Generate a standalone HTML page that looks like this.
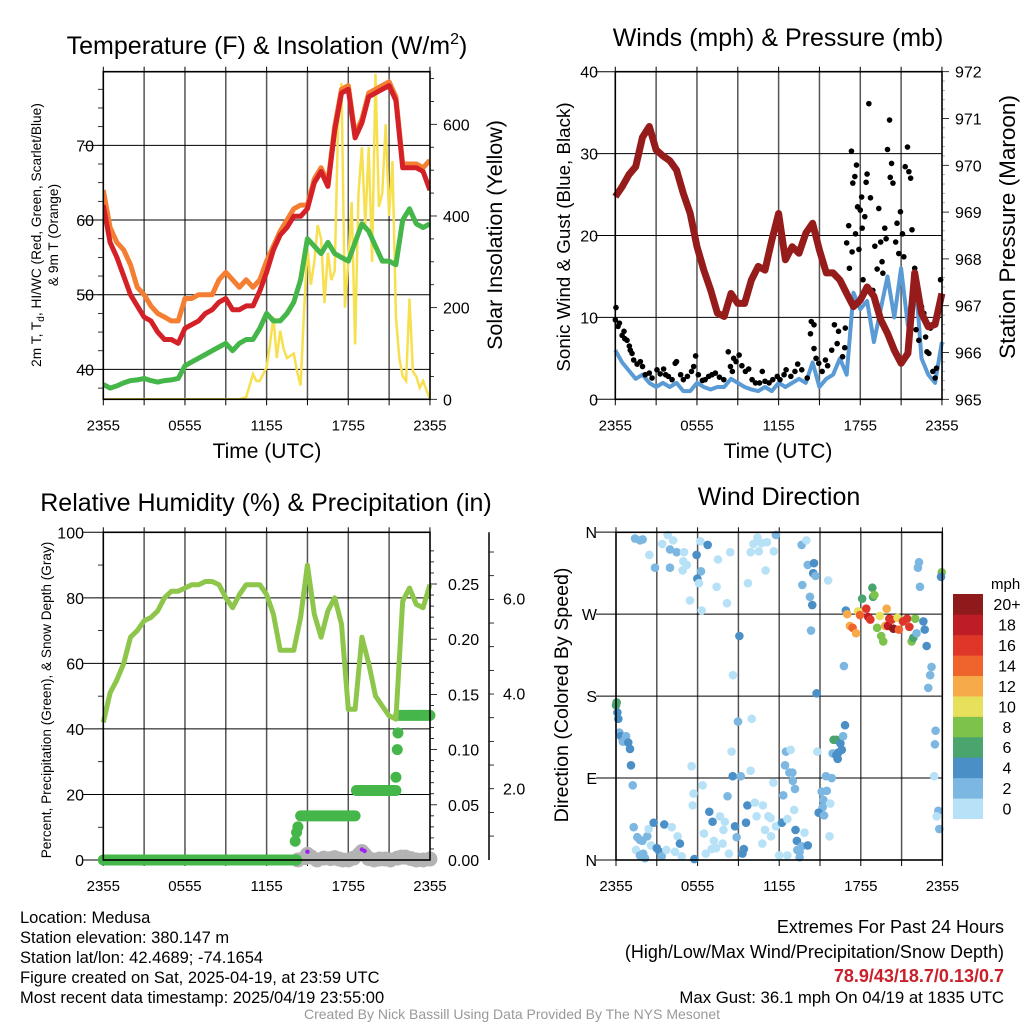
<!DOCTYPE html>
<html><head><meta charset="utf-8"><title>Mesonet Medusa</title>
<style>
html,body{margin:0;padding:0;background:#fff;}
svg{display:block;font-family:"Liberation Sans",sans-serif;}
</style></head>
<body>
<svg id="svg" width="1024" height="1024" viewBox="0 0 1024 1024" xmlns="http://www.w3.org/2000/svg">
<rect width="1024" height="1024" fill="#fff"/>
<text x="267" y="54" font-size="25" text-anchor="middle">Temperature (F) &amp; Insolation (W/m<tspan dy="-10" font-size="16">2</tspan><tspan dy="10">)</tspan></text>
<text x="778" y="46" font-size="25" text-anchor="middle">Winds (mph) &amp; Pressure (mb)</text>
<text x="266" y="511" font-size="25" text-anchor="middle">Relative Humidity (%) &amp; Precipitation (in)</text>
<text x="779" y="505" font-size="25" text-anchor="middle">Wind Direction</text>

<text transform="translate(41,235) rotate(-90)" font-size="13.7" text-anchor="middle">2m T, T<tspan dy="3" font-size="10">d</tspan><tspan dy="-3">, HI/WC (Red, Green, Scarlet/Blue)</tspan></text>
<text transform="translate(58,235) rotate(-90)" font-size="13.7" text-anchor="middle">&amp; 9m T (Orange)</text>
<text transform="translate(502,235) rotate(-90)" font-size="21.5" text-anchor="middle">Solar Insolation (Yellow)</text>
<text transform="translate(570,237) rotate(-90)" font-size="18.8" text-anchor="middle">Sonic Wind &amp; Gust (Blue, Black)</text>
<text transform="translate(1015,227) rotate(-90)" font-size="22.5" text-anchor="middle">Station Pressure (Maroon)</text>
<text transform="translate(51,700) rotate(-90)" font-size="13.6" text-anchor="middle">Percent, Precipitation (Green), &amp; Snow Depth (Gray)</text>
<text transform="translate(568,695) rotate(-90)" font-size="19.6" text-anchor="middle">Direction (Colored By Speed)</text>
<text x="267" y="458" font-size="21" text-anchor="middle">Time (UTC)</text>
<text x="778" y="458" font-size="21" text-anchor="middle">Time (UTC)</text>

<g font-size="16.5">
<text x="20" y="923">Location: Medusa</text>
<text x="20" y="943">Station elevation: 380.147 m</text>
<text x="20" y="963">Station lat/lon: 42.4689; -74.1654</text>
<text x="20" y="983">Figure created on Sat, 2025-04-19, at 23:59 UTC</text>
<text x="20" y="1003">Most recent data timestamp: 2025/04/19 23:55:00</text>
</g>
<g text-anchor="end">
<text x="1004" y="933" font-size="18">Extremes For Past 24 Hours</text>
<text x="1004" y="958" font-size="18">(High/Low/Max Wind/Precipitation/Snow Depth)</text>
<text x="1004" y="982" font-size="18" fill="#c9202a" font-weight="bold">78.9/43/18.7/0.13/0.7</text>
<text x="1004" y="1003" font-size="16.8">Max Gust: 36.1 mph On 04/19 at 1835 UTC</text>
</g>
<text x="512" y="1019" font-size="14" fill="#999" text-anchor="middle">Created By Nick Bassill Using Data Provided By The NYS Mesonet</text>
</svg>
<script>
// ---------- DATA ----------
const halfHours = [0,0.5,1,1.5,2,2.5,3,3.5,4,4.5,5,5.5,6,6.5,7,7.5,8,8.5,9,9.5,10,10.5,11,11.5,12,12.5,13,13.5,14,14.5,15,15.5,16,16.5,17,17.5,18,18.5,19,19.5,20,20.5,21,21.5,22,22.5,23,23.5,24];
const tempRed = [62,57,55,52.5,50,48.5,47,46.5,45,44,44,43.5,45.5,46,46.5,47.5,48,49,49.5,48,48,48.5,48.5,50.5,53,56,58,59,60.5,60.5,61.5,65,66.5,64.5,72,77,77.5,71,73,76.5,77,77.5,78,76,67,67,67,66.5,64];
const temp9m = [64,59,57,56,54,51,50,48.5,47.5,47,46.5,46.5,49.5,49.5,50,50,50,52,53,52,51,52,51,52,54.5,56.5,58.5,60,61.5,62,62,65.5,67,65,72.5,77.5,78,71.5,73.5,77,77.5,78,78.5,76.5,67.5,67.5,67.5,67,68];
const tempDew = [38,37.5,37.8,38.2,38.5,38.6,38.8,38.5,38.3,38.5,38.6,38.8,40.5,41,41.5,42,42.5,43,43.5,42.5,43.5,44,44,45.5,47.5,46.5,46.5,47.5,49,52,57.5,56.5,55.5,57,55.5,55,54.5,57,59.5,58.5,56.5,54.5,54.5,54,60,61.5,59.5,59,59.5];
const solarHours = [0,10,10.5,11,11.25,11.5,12,12.25,12.5,12.75,13,13.25,13.5,14,14.25,14.5,14.75,15,15.25,15.5,15.75,16,16.25,16.5,16.75,17,17.25,17.5,17.75,18,18.25,18.5,18.75,19,19.25,19.5,19.75,20,20.25,20.5,20.75,21,21.25,21.5,21.75,22,22.25,22.5,22.75,23,23.25,23.5,24];
const solarVals = [0,0,5,55,40,40,70,120,180,90,150,110,90,100,60,30,190,330,250,300,380,350,210,320,260,280,600,690,200,300,430,120,450,550,380,550,300,710,420,450,600,400,520,180,90,50,40,220,60,50,25,40,0];
const tempTicks = [40,50,60,70];
const solarTicks = [0,200,400,600];
const timeLabels = ["2355","0555","1155","1755","2355"];

const pressure = [969.33,969.54,969.8,969.97,970.6,970.83,970.33,970.2,970.1,969.9,969.4,968.97,968.26,967.76,967.34,966.84,966.77,967.26,967.05,967.05,967.55,967.84,967.76,968.4,968.97,967.98,968.26,968.12,968.55,968.76,968.19,967.7,967.7,967.55,967.26,966.98,967.12,967.4,967.2,966.7,966.41,966.05,965.77,965.98,967.7,966.84,966.55,966.6,967.26];
const windSpeed = [6,4.5,3.5,2.5,3,2,1.5,2,1.5,2,1,1,2,1.5,1.2,1.5,1.5,2.5,2,1.5,1.2,1,1.5,1,2,1.5,2,2.5,2,4.5,1.5,2.5,3,5,3,13,11,12,7,11,15,10,16,9,16,5,3,2,7];
const gustHours = [0,0.05,0.2,0.3,0.5,0.7,0.86,1.03,0.64,1.1,1.23,1.35,1.6,1.84,2,2.2,2.5,2.7,3.06,3.3,3.55,3.7,3.9,4.17,4.4,4.5,4.8,5,5.3,5.6,5.9,5.76,6.1,6.4,6.6,6.86,7.1,7.35,7.65,7.97,8.3,8.46,8.6,8.7,8.87,9.1,9.3,9.56,9.8,10.05,10.3,10.6,10.8,11,11.3,11.57,11.9,12.1,12.4,12.55,12.9,13.2,13.4,13.7,14.1,14.34,14.4,14.6,14.6,14.75,14.95,15.2,15.44,15.6,15.9,16.1,16.3,16.4,16.7,16.86,16.9,17,17.15,17.2,17.35,17.4,17.45,17.6,17.65,17.72,17.8,17.9,18,18.1,18.14,18.2,18.33,18.43,18.5,18.63,18.75,18.92,19.07,19.24,19.36,19.5,19.6,19.66,19.8,19.9,20,20.15,20.2,20.3,20.4,20.6,20.7,20.83,20.95,21.1,21.2,21.3,21.47,21.57,21.7,21.8,22,22.1,22.3,22.5,22.67,22.8,22.9,23.04,23.16,23.33,23.5,23.6,23.9];
const gustVals = [9.7,11.2,8.9,9.3,7.8,7.4,7.2,6.5,8.3,6,5.6,4.8,4.3,4.6,4,3,3.2,2.6,3.6,3.1,3.7,3,2.8,2.4,4.4,4.6,3,2.4,2.8,3.4,5.3,4,3,2.3,2.4,2.8,3,3.2,2.7,2.4,5.8,4,3.4,5,4.6,5.4,4.1,3.4,3.7,2.4,2,2,3.4,2.2,2,2.4,2.8,2.4,3,3.6,2.8,3.4,4.3,3.6,2.6,8,9.5,9.1,6.2,5,4.4,3.4,4.8,4.1,6,9.1,6.8,8.3,5.2,6.3,8.7,19.1,21.2,16,30.3,18,26.4,27.2,20.2,28.6,23.5,18.3,23.1,24.7,20.9,14.6,22.3,26.5,27.5,36.1,24.6,13.3,18.7,15.9,23.3,19.2,16.8,15.4,20.9,19.6,30.5,34.1,27.1,28.8,26.4,19.2,21.5,17.8,22.9,20.2,17.4,28.4,30.8,27.8,27,20.7,16,8.5,7.2,11.3,10.5,7.6,5.8,5.6,8.7,3.4,2.6,3.8,14.6];
const windTicks = [0,10,20,30,40];
const pressTicks = [965,966,967,968,969,970,971,972];

const rhVals = [42,51,55,60,68,70,73,74,76,80,82,82,83,84,84,85,85,84,80,77,81,84,84,84,81,75,64,64,64,74,90,75,68,76,80,72,46,46,68,60,50,47,44,43,79,83,78,77,84];
const precipStepStart = [0,14.5,18.6,21.9];
const precipStepEnd = [14.2,18.5,21.5,24];
const precipStepVal = [0,0.04,0.063,0.131];
const precipDotHours = [14.1,14.2,14.3,21.5,21.6,21.65,21.7];
const precipDotVals = [0.017,0.025,0.03,0.075,0.1,0.115,0.131];
const snowHours = [14.3,14.8,15.0,15.3,15.7,16.2,16.7,17.0,17.3,17.6,18.0,18.4,18.8,19.0,19.2,19.5,19.9,20.3,20.7,21.1,21.6,21.9,22.2,22.6,23.0,23.5,24];
const snowVals = [0,0.05,0.12,0.06,0,0.04,0.03,0.05,0.02,0,0,0.04,0.12,0.18,0.12,0.03,0,0.02,0.02,0,0.04,0.06,0.06,0.03,0,0,0.02];
const rhTicks = [0,20,40,60,80,100];
const precipTicks = ["0.00","0.05","0.10","0.15","0.20","0.25"];
const snowTicks = ["2.0","4.0","6.0"];

const dirHours = [1.4,1.76,1.96,2.45,2.87,3.4,3.8,3.97,4.2,4.46,3.97,5.0,4.95,5.2,4.9,5.44,5.93,6.25,5.98,6.1,6.3,6.2,6.74,7.5,7.4,8.16,8.4,9.07,8.6,9.7,10.1,10.4,10.7,11.1,9.9,10.5,11.0,11.6,11.76,13.65,14.0,14.1,14.56,14.5,14.67,13.7,14.26,14.43,14.34,15.6,14.75,16.76,
16.9,17.0,17.2,17.4,17.65,17.8,17.94,18.1,18.4,18.55,18.7,18.85,18.9,19.0,19.2,19.4,19.5,19.65,19.8,19.9,20.1,20.0,20.27,20.4,20.7,20.8,21.1,21.4,21.57,21.74,21.86,22.0,22.1,22.6,22.7,22.84,22.28,22.2,22.35,23.2,23.1,22.96,23.95,23.9,23.5,23.45,23.4,23.7,23.58,23.77,
0,0.05,0.1,0.17,0.25,0.37,0.5,0.74,0.9,1.03,1.1,1.23,
5.56,5.7,5.64,6.37,8.5,8.97,9.98,8.58,9.17,9.9,8.2,9.66,10.2,10.8,11.57,12.5,12.84,12.43,12.75,12.97,13.0,13.16,12.3,13.1,14.8,15.44,15.86,15.12,15.5,15.25,15.2,14.9,15.3,15.75,15.7,16.0,16.2,16.5,16.6,16.7,16.84,15.93,16.2,16.35,16.3,
1.3,1.57,1.76,1.94,2.3,2.4,2.77,1.47,1.76,2.13,2.0,2.57,3.0,3.2,3.36,3.55,3.7,4.1,4.34,4.53,4.7,4.83,5.76,6.47,6.6,6.86,7.1,7.2,7.03,7.35,7.64,7.9,8.0,7.84,8.3,8.75,8.87,9.4,9.3,9.56,10.34,10.96,11.2,11.37,11.4,10.76,11.76,12.0,12.2,12.6,12.6,13.2,13.3,13.33,13.5,13.65,13.86,14.1,13.5];
const dirDeg = [353,351,352,335,321,347,357,341,351,338,321,338,328,324,318,285,335,317,309,304,274,350,346,330,300,282,338,246,203,304,347,354,348,349,338,339,318,339,357,346,351,324,326,315,312,302,289,280,252,307,183,213,
274,270,257,255,249,273,269,287,276,267,264,299,289,291,255,268,246,240,257,276,265,257,264,254,266,253,262,265,256,240,244,265,249,262,253,235,327,321,300,212,203,189,316,311,142,127,92,54,48,34,
170,173,162,155,140,136,130,136,129,122,104,82,
103,73,60,82,119,152,155,92,92,98,70,60,63,60,85,119,121,104,96,96,87,78,71,55,119,92,90,75,76,66,58,52,49,62,26,132,132,128,121,136,148,117,115,118,111,
36,25,22,21,26,34,41,11,5,2,7,16,13,9,4,39,11,36,9,26,18,4,1,29,7,53,42,21,12,13,48,33,42,18,7,37,25,12,7,41,48,33,48,46,26,18,37,5,41,45,5,33,21,11,3,15,30,16,9];
const dirSpeed = [2,2,2,0,2,0,0,2,0,2,2,0,0,0,0,0,4,2,4,0,0,0,4,0,0,0,0,4,0,0,0,0,0,0,0,0,0,0,2,2,0,2,4,4,2,2,2,4,2,0,4,2,
4,12,12,14,12,10,14,6,16,18,16,6,6,8,8,10,8,8,12,12,16,18,16,20,10,14,16,16,16,8,6,8,2,4,4,4,2,2,2,2,2,2,8,4,2,2,0,2,0,2,
6,6,4,4,2,4,2,2,4,4,4,2,
0,0,0,0,0,2,0,4,2,0,2,4,0,0,0,2,0,2,2,2,2,2,2,0,0,2,2,2,2,2,2,4,2,0,0,6,6,4,4,2,4,2,4,4,4,
2,2,2,2,2,0,4,0,2,2,2,0,4,4,2,4,0,0,0,0,4,0,4,0,0,4,4,0,0,0,0,0,0,0,0,4,2,4,4,4,0,0,0,0,0,0,0,0,4,0,0,4,4,2,2,2,0,4,2];
const dirLabels = ["N","E","S","W","N"];
const speedBinLabels = ["0","2","4","6","8","10","12","14","16","18","20+"];
const speedColors = ["#b7e1f6","#7cb7e2","#4a8fc6","#4aa46e","#7dc24b","#e6e05a","#f6aa4a","#ef632d","#de3629","#bf1d25","#8f1a1c"];

// ---------- HELPERS ----------
const NS = "http://www.w3.org/2000/svg";
const svg = document.getElementById("svg");
function mk(tag, attrs, parent) {
  const e = document.createElementNS(NS, tag);
  for (const k in attrs) e.setAttribute(k, attrs[k]);
  (parent || svg).appendChild(e);
  return e;
}
function txt(s, x, y, size, anchor, parent) {
  const t = mk("text", {x: x, y: y, "font-size": size, "text-anchor": anchor || "middle"}, parent);
  t.textContent = s;
  return t;
}
function pathFrom(xs, ys) {
  return xs.map((x, i) => (i ? "L" : "M") + x.toFixed(1) + "," + ys[i].toFixed(1)).join("");
}

const X1 = h => 103.3 + h * 13.61;
const X2 = h => 615.3 + h * 13.61;
const X4 = h => 616 + h * 13.6;
const T1 = t => 399.3 - (t - 36) * 7.47;
const S1 = w => 399.3 - w * 0.4583;
const W2 = v => 399.3 - v * 8.19;
const P2 = p => 399.3 - (p - 965) * 46.8;
const RH3 = r => 860 - r * 3.277;
const PR3 = p => 860 - p * 1104;
const SN3 = s => 860 - s * 47.3;
const D4 = d => 860 - d * 0.9106;

function frame(name, x0, x1, y0, y1, X) {
  const g = mk("g", {});
  
  
  for (let h = 3; h < 24; h += 3) {
    const l = mk("line", {x1: X(h), x2: X(h), y1: y0, y2: y1, stroke: "#555", "stroke-width": 1.5}, g);
    
    
  }
  for (let i = 0; i < 9; i++) {
    const h = i * 3;
    const t = mk("line", {x1: X(h), x2: X(h), y1: y0 - 5, y2: y0, stroke: "#000", "stroke-width": 1}, g);
    
    
    const b = mk("line", {x1: X(h), x2: X(h), y1: y1, y2: y1 + 6, stroke: "#000", "stroke-width": 1}, g);
    
    
  }
  timeLabels.forEach((s, i) => {
    const t = txt(s, X(i * 6), y1 + 31, 15, "middle", g);
    
    
  });
  return g;
}
function box(name, x0, x1, y0, y1) {
  const r = mk("rect", {x: x0, y: y0, width: x1 - x0, height: y1 - y0, fill: "none", stroke: "#000", "stroke-width": 1.6});
  
  
}
function hgrid(g, y, x0, x1) {
  const l = mk("line", {x1: x0 - 20, x2: x1, y1: y, y2: y, stroke: "#000", "stroke-width": 1}, g);
  
  
}

// ---------- PANEL 1 ----------
{
  const g = frame("temp", 103.3, 430, 71.7, 399.3, X1);
  tempTicks.forEach(t => {
    hgrid(g, T1(t), 103.3, 430);
    const lb = txt(String(t), 94, T1(t) + 6, 16, "end", g);
    
    
  });
  for (let t = 37.5; t < 80; t += 2.5) {
    const tk = mk("line", {x1: 98, x2: 103.3, y1: T1(t), y2: T1(t), stroke: "#000", "stroke-width": 0.8}, g);
    
    
  }
  for (let w = 0; w <= 700; w += 50) {
    const tk = mk("line", {x1: 430, x2: w % 200 === 0 ? 437 : 434, y1: S1(w), y2: S1(w), stroke: "#000", "stroke-width": 0.8}, g);
    
    
  }
  solarTicks.forEach(w => {
    const lb = txt(String(w), 443, S1(w) + 6, 16, "start", g);
    
    
  });
  const cp = mk("clipPath", {id: "c1"}); mk("rect", {x: 103.3, y: 71.7, width: 326.7, height: 327.6}, cp);
  const sol = mk("path", {d: pathFrom(solarHours.map(X1), solarVals.map(S1)), fill: "none", stroke: "#f7e04f", "stroke-width": 2.5, "clip-path": "url(#c1)"});
  
  
  const o = mk("path", {d: pathFrom(halfHours.map(X1), temp9m.map(T1)), fill: "none", stroke: "#f47f32", "stroke-width": 5, "stroke-linejoin": "round", "clip-path": "url(#c1)"});
  
  
  const r = mk("path", {d: pathFrom(halfHours.map(X1), tempRed.map(T1)), fill: "none", stroke: "#d42027", "stroke-width": 5, "stroke-linejoin": "round", "clip-path": "url(#c1)"});
  
  
  const d = mk("path", {d: pathFrom(halfHours.map(X1), tempDew.map(T1)), fill: "none", stroke: "#45b649", "stroke-width": 5, "stroke-linejoin": "round", "clip-path": "url(#c1)"});
  
  
  box("temp", 103.3, 430, 71.7, 399.3);
}

// ---------- PANEL 2 ----------
{
  const g = frame("wind", 615.3, 942, 71.7, 399.3, X2);
  windTicks.forEach(v => {
    hgrid(g, W2(v), 615.3, 942);
    const lb = txt(String(v), 598, W2(v) + 6, 16, "end", g);
    
    
  });
  for (let p = 965; p <= 972.001; p += 0.2) {
    const major = Math.abs(p - Math.round(p)) < 0.01;
    const tk = mk("line", {x1: 942, x2: major ? 949 : 945, y1: P2(p), y2: P2(p), stroke: major ? "#000" : "#999", "stroke-width": 0.8}, g);
    
    
  }
  pressTicks.forEach(p => {
    const lb = txt(String(p), 955, P2(p) + 6, 16, "start", g);
    
    
  });
  const b = mk("path", {d: pathFrom(halfHours.map(X2), windSpeed.map(W2)), fill: "none", stroke: "#5a9bd5", "stroke-width": 4, "stroke-linejoin": "round"});
  
  
  const gg = mk("g", {});
  
  
  gustHours.forEach((h, i) => {
    const c = mk("circle", {cx: X2(h), cy: W2(gustVals[i]), r: 2.8, fill: "#000"}, gg);
    
    
  });
  const p = mk("path", {d: pathFrom(halfHours.map(X2), pressure.map(P2)), fill: "none", stroke: "#961b1b", "stroke-width": 7, "stroke-linejoin": "round"});
  
  
  box("wind", 615.3, 942, 71.7, 399.3);
}

// ---------- PANEL 3 ----------
{
  const g = frame("rh", 103.3, 430, 532.3, 860, X1);
  rhTicks.forEach(v => {
    hgrid(g, RH3(v), 103.3, 430);
    const lb = txt(String(v), 84, RH3(v) + 6, 16, "end", g);
    
    
  });
  for (let v = 10; v < 100; v += 20) {
    const tk = mk("line", {x1: 98, x2: 103.3, y1: RH3(v), y2: RH3(v), stroke: "#000", "stroke-width": 0.8}, g);
    
    
  }
  for (let p = 0; p <= 0.29; p += 0.01) {
    const major = Math.abs(p * 20 - Math.round(p * 20)) < 0.01;
    const tk = mk("line", {x1: 430, x2: major ? 437 : 434, y1: PR3(p), y2: PR3(p), stroke: "#000", "stroke-width": 0.8}, g);
    
    
  }
  precipTicks.forEach(s => {
    const lb = txt(s, 448, PR3(parseFloat(s)) + 6, 16, "start", g);
    
    
  });
  const ax = mk("line", {x1: 489, x2: 489, y1: 532.3, y2: 860, stroke: "#000", "stroke-width": 1.5}, g);
  
  
  for (let k = 0; k < 14; k++) {
    const y = 788.7 + 47.35 * 1.5 - k * 23.67;
    if (y < 536 || y > 858) continue;
    const tk = mk("line", {x1: 489, x2: 494, y1: y, y2: y, stroke: "#000", "stroke-width": 0.8}, g);
    
    
  }
  snowTicks.forEach((s, i) => {
    const y = 788.7 - i * 95;
    const lb = txt(s, 503, y + 6, 16, "start", g);
    
    
  });
  const cp = mk("clipPath", {id: "c3"}); mk("rect", {x: 96, y: 532.3, width: 345, height: 340}, cp);
  const sg = mk("g", {"clip-path": "url(#c3)"});
  
  
  snowHours.forEach((h, i) => {
    const c = mk("circle", {cx: X1(h), cy: SN3(snowVals[i]), r: 7.5, fill: "#b3b3b3"}, sg);
    
    
  });
  const pg = mk("g", {});
  
  
  precipStepStart.forEach((h0, i) => {
    const l = mk("line", {x1: X1(h0), x2: X1(precipStepEnd[i]), y1: PR3(precipStepVal[i]), y2: PR3(precipStepVal[i]), stroke: "#45b649", "stroke-width": 11, "stroke-linecap": "round"}, pg);
    
    
  });
  precipDotHours.forEach((h, i) => {
    const c = mk("circle", {cx: X1(h), cy: PR3(precipDotVals[i]), r: 5.5, fill: "#45b649"}, pg);
    
    
  });
  [[15.0, 851.7], [19.0, 849.5], [19.2, 851]].forEach(p => {
    const c = mk("circle", {cx: X1(p[0]), cy: p[1], r: 2.2, fill: "#a020f0"});
    
    
  });
  const rh = mk("path", {d: pathFrom(halfHours.map(X1), rhVals.map(RH3)), fill: "none", stroke: "#8dc64b", "stroke-width": 5, "stroke-linejoin": "round"});
  
  
  box("rh", 103.3, 430, 532.3, 860);
}

// ---------- PANEL 4 ----------
{
  const g = frame("dir", 616, 942.3, 532.3, 860, X4);
  dirLabels.forEach((s, i) => {
    hgrid(g, D4(i * 90), 616, 942.3);
    const lb = txt(s, 597, D4(i * 90) + 6, 16, "end", g);
    
    
  });
  const pg = mk("g", {});
  
  
  dirHours.forEach((h, i) => {
    const bin = Math.min(10, Math.floor(dirSpeed[i] / 2));
    const c = mk("circle", {cx: X4(h), cy: D4(dirDeg[i]), r: 4.3, fill: speedColors[bin]}, pg);
    
    
  });
  box("dir", 616, 942.3, 532.3, 860);
  const cb = mk("g", {});
  
  
  const unit = txt("mph", 991, 589, 15, "start", cb);
  
  
  const bh = (818.7 - 594) / 11;
  speedBinLabels.forEach((s, i) => {
    const y = 818.7 - (i + 1) * bh;
    const r = mk("rect", {x: 953, y: y, width: 30, height: bh + 0.3, fill: speedColors[i]}, cb);
    
    
    const lb = txt(s, 1007, y + bh / 2 + 6, 16, "middle", cb);
    
    
  });
}
</script>
</body></html>
